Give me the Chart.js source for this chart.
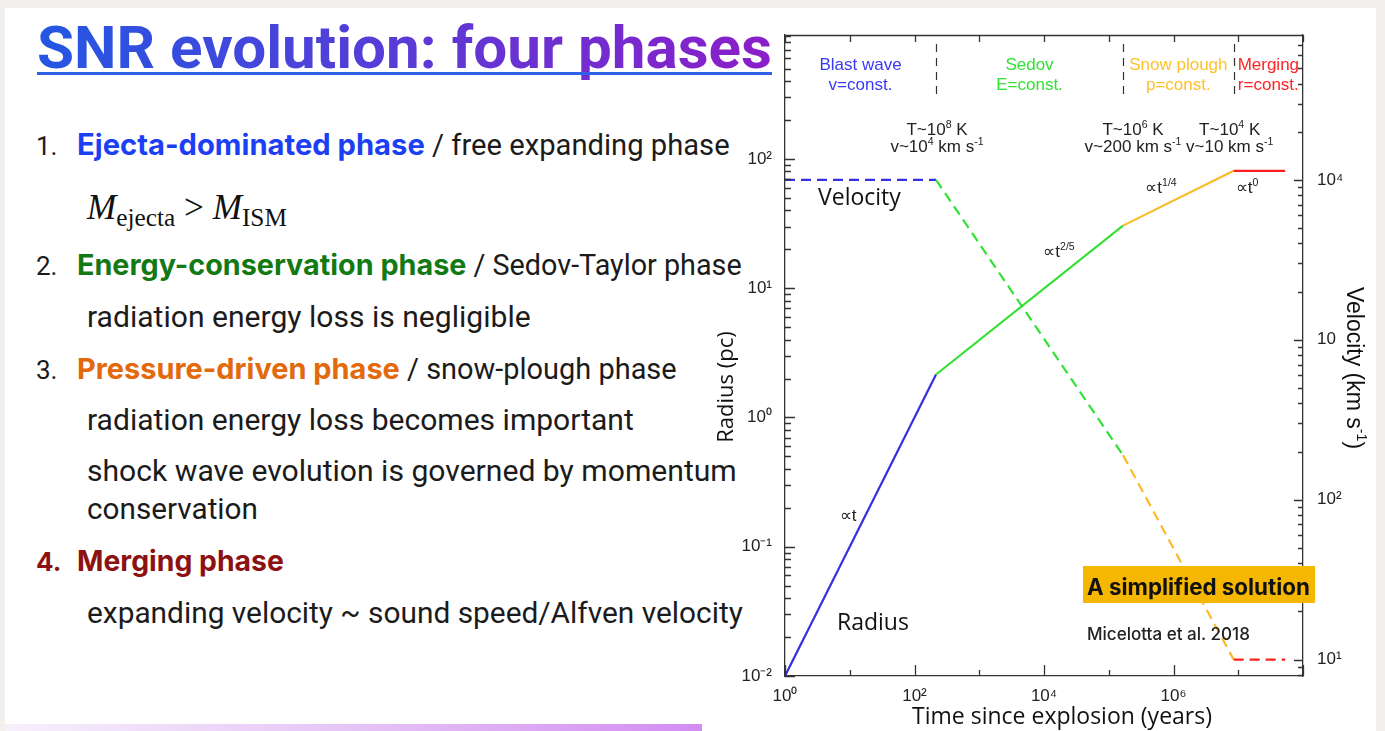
<!DOCTYPE html>
<html>
<head>
<meta charset="utf-8">
<script src="https://cdn.jsdelivr.net/npm/chart.js@4.4.1/dist/chart.umd.min.js"></script>
<style>
  html, body { margin: 0; padding: 0; }
  body { width: 1385px; height: 731px; background: #f1f0ed; position: relative; overflow: hidden; font-family: Roboto, sans-serif; }
  #slide { position: absolute; left: 5px; top: 8px; width: 1371px; height: 723px; background: #fff; }
  .t { position: absolute; left: 0; top: 0; white-space: nowrap; line-height: 1; }
  .bl { display: inline-block; width: 0; height: 0; }
  #title { font: 700 60px Roboto, sans-serif; transform-origin: 0 0;
           background: linear-gradient(90deg, #2357e2 0%, #5a3bd6 50%, #8b1ec8 100%);
           -webkit-background-clip: text; background-clip: text; color: transparent; }
  #uline { position: absolute; left: 37px; top: 72px; width: 735px; height: 3px; background: #2f62e6; }
  .row { font: 400 26px Roboto, sans-serif; color: #1b1b1b; }
  .b { font-family: Inter, sans-serif; font-weight: 700; }
  .math { font: 400 28px "Liberation Serif", serif; color: #111; }
  .math i { font-style: italic; }
  .math sub { font-size: 0.72em; vertical-align: -0.28em; line-height: 0; }
  #chart { position: absolute; left: 700px; top: 0; }
  #note { position: absolute; left: 1083px; top: 566px; width: 232px; height: 37px; background: #f6b700; }
  .over { z-index: 3; }
  #bar { position: absolute; left: 5px; top: 724px; width: 697px; height: 7px;
         background: linear-gradient(90deg, #f7f0fc 0%, #e6c4f6 50%, #d38cf2 100%); }
</style>
</head>
<body>
<div id="slide"></div>

<div id="title" class="t" data-x="37" data-b="68" data-w="735" data-mode="sx">SNR evolution: four phases<i class="bl"></i></div>
<div id="uline"></div>

<div class="t row" data-x="36" data-b="155">1.<i class="bl"></i></div>
<div class="t row" data-x="77" data-b="155" data-w="653"><span class="b" style="color:#1d3ff4">Ejecta-dominated phase</span> / free expanding phase<i class="bl"></i></div>
<div class="t math" data-x="87" data-b="219" data-w="200"><i>M</i><sub>ejecta</sub> &gt; <i>M</i><sub>ISM</sub><i class="bl"></i></div>

<div class="t row" data-x="36" data-b="275">2.<i class="bl"></i></div>
<div class="t row" data-x="77" data-b="275" data-w="665"><span class="b" style="color:#137a13">Energy-conservation phase</span> / Sedov-Taylor phase<i class="bl"></i></div>
<div class="t row" data-x="87" data-b="327" data-w="444">radiation energy loss is negligible<i class="bl"></i></div>

<div class="t row" data-x="36" data-b="379">3.<i class="bl"></i></div>
<div class="t row" data-x="77" data-b="379" data-w="600"><span class="b" style="color:#e2690c">Pressure-driven phase</span> / snow-plough phase<i class="bl"></i></div>
<div class="t row" data-x="87" data-b="430" data-w="547">radiation energy loss becomes important<i class="bl"></i></div>
<div class="t row" data-x="87" data-b="481" data-w="650">shock wave evolution is governed by momentum<i class="bl"></i></div>
<div class="t row" data-x="87" data-b="519" data-w="171">conservation<i class="bl"></i></div>

<div class="t row" data-x="36" data-b="571"><span class="b" style="color:#8c1212">4.</span><i class="bl"></i></div>
<div class="t row" data-x="77" data-b="571" data-w="207"><span class="b" style="color:#8c1212">Merging phase</span><i class="bl"></i></div>
<div class="t row" data-x="87" data-b="623" data-w="656">expanding velocity ~ sound speed/Alfven velocity<i class="bl"></i></div>

<div id="bar"></div>

<canvas id="chart" width="685" height="731"></canvas>

<div id="note" class="over"></div>
<div class="t row over" data-x="1087" data-b="595" data-w="223"><span class="b" style="color:#111">A simplified solution</span><i class="bl"></i></div>
<div class="t over" style="font:500 16px Inter, sans-serif;color:#222" data-x="1087" data-b="640" data-w="163">Micelotta et al. 2018<i class="bl"></i></div>

<script>
// ---- Evolution of a supernova remnant: breakpoints between the four phases ----
const T_YEARS      = [1, 215, 1.66e5, 8.5e6, 5.3e7];   // time since explosion (yr)
const RADIUS_PC    = [0.01, 2.15, 30.5, 81, 81];       // shock radius (pc)
const VELOCITY_KMS = [1e4, 1e4, 190, 10, 10];          // shock velocity (km/s)

const PHASE_NAMES = ['Blast wave', 'Sedov', 'Snow plough', 'Merging'];
const PHASE_LAWS  = ['v=const.', 'E=const.', 'p=const.', 'r=const.'];
const SLOPE_EXP   = ['', '2/5', '1/4', '0'];             // radius ∝ t^n in each phase
const TRANS_TEMP  = ['8', '6', '4'];                      // T ~ 10^n K at each transition
const TRANS_VEL   = [['10', '4'], ['200', ''], ['10', '']];

const X_TICKS = [1, 1e2, 1e4, 1e6];
const X_TICK_LABELS = ['10⁰', '10²', '10⁴', '10⁶'];
const R_TICKS = [0.01, 0.1, 1, 10, 100];
const R_TICK_LABELS = ['10⁻²', '10⁻¹', '10⁰', '10¹', '10²'];
const V_TICKS = [10, 100, 1000, 10000];
const V_TICK_LABELS = ['10¹', '10²', '10', '10⁴'];

const X_RANGE = [1, 1e8];
const R_RANGE = [0.01, 910];
const V_RANGE = [7.9, 80500];

// ---- styling ----
const PHASE_COLORS = ['#3430e0', '#33e033', '#fdb927', '#ff1f1f'];
const TEXT_COLORS  = ['#3a3af5', '#33e033', '#ffc12a', '#ff2424'];
const AX = '#333';
const SANS = '"Liberation Sans", Arial, sans-serif';
const OPEN = '"Open Sans", sans-serif';

// ---- slide text layout: fit widths, then place on baselines ----
document.querySelectorAll('.t').forEach(el => {
  el.style.left = el.dataset.x + 'px';
  if (el.dataset.w) {
    const w = el.getBoundingClientRect().width;
    const target = +el.dataset.w;
    if (el.dataset.mode === 'sx') {
      el.style.transform = 'scaleX(' + (target / w) + ')';
    } else {
      const fs = parseFloat(getComputedStyle(el).fontSize);
      el.style.fontSize = (fs * target / w) + 'px';
    }
  }
});
document.querySelectorAll('.t').forEach(el => {
  const m = el.querySelector('.bl');
  const cur = m.getBoundingClientRect().top;
  el.style.top = (parseFloat(el.style.top || 0) + (+el.dataset.b - cur)) + 'px';
});

// ---- helpers ----
function rich(ctx, parts, x, y, size, family, color, align) {
  const fonts = parts.map(p => (p[1] ? size * 0.62 : size) + 'px ' + family);
  const widths = parts.map((p, i) => { ctx.font = fonts[i]; return ctx.measureText(p[0]).width; });
  const total = widths.reduce((a, b) => a + b, 0);
  let cx = align === 'left' ? x : align === 'right' ? x - total : x - total / 2;
  ctx.fillStyle = color;
  ctx.textBaseline = 'alphabetic';
  ctx.textAlign = 'left';
  parts.forEach((p, i) => {
    ctx.font = fonts[i];
    ctx.fillText(p[0], cx, p[1] ? y - size * 0.42 : y);
    cx += widths[i];
  });
  return total;
}

function logMarks(scale) {
  const out = [];
  const e0 = Math.floor(Math.log10(scale.min)), e1 = Math.ceil(Math.log10(scale.max));
  for (let e = e0; e <= e1; e++) {
    for (let m = 1; m <= 9; m++) {
      const v = m * Math.pow(10, e);
      if (v >= scale.min * 0.999 && v <= scale.max) out.push([v, m === 1]);
    }
  }
  return out;
}

// frame and tick marks (all pointing into the plot)
const framePlugin = {
  id: 'frame',
  afterDatasetsDraw(chart) {
    const { ctx, chartArea: a, scales: { x, y, y2 } } = chart;
    ctx.save();
    ctx.strokeStyle = AX;
    ctx.lineWidth = 1.3;
    ctx.beginPath();
    ctx.moveTo(a.left, a.top + 0.5); ctx.lineTo(a.right, a.top + 0.5);
    for (let e = 0; e <= 8; e++) {
      const px = Math.round(x.getPixelForValue(Math.pow(10, e))) + 0.5;
      const len = e % 2 === 0 ? 11 : 6;
      ctx.moveTo(px, a.bottom); ctx.lineTo(px, a.bottom - len);
      ctx.moveTo(px, a.top); ctx.lineTo(px, a.top + 7);
    }
    logMarks(y).forEach(([v, major]) => {
      const py = Math.round(y.getPixelForValue(v)) + 0.5;
      ctx.moveTo(a.left, py); ctx.lineTo(a.left + (major ? 10 : 6), py);
    });
    logMarks(y2).forEach(([v, major]) => {
      const py = Math.round(y2.getPixelForValue(v)) + 0.5;
      ctx.moveTo(a.right, py); ctx.lineTo(a.right - (major ? 9 : 5), py);
    });
    ctx.stroke();
    ctx.restore();
  }
};

// phase header, transition conditions, power-law labels and axis titles
const labelPlugin = {
  id: 'labels',
  afterDraw(chart) {
    const { ctx, chartArea: a, scales: { x } } = chart;
    ctx.save();
    const bx = [a.left].concat(T_YEARS.slice(1, 4).map(t => x.getPixelForValue(t)), [a.right]);

    // dashed separators between phases
    ctx.strokeStyle = AX;
    ctx.lineWidth = 1.2;
    ctx.setLineDash([8, 6]);
    ctx.beginPath();
    for (let i = 1; i <= 3; i++) {
      const px = Math.round(bx[i]) + 0.5;
      ctx.moveTo(px, a.top + 9); ctx.lineTo(px, a.top + 62);
    }
    ctx.stroke();
    ctx.setLineDash([]);

    // phase names and conserved quantity
    ctx.textAlign = 'center';
    ctx.textBaseline = 'alphabetic';
    ctx.font = '17px ' + SANS;
    PHASE_NAMES.forEach((n, i) => {
      const cx = (bx[i] + bx[i + 1]) / 2;
      ctx.fillStyle = TEXT_COLORS[i];
      ctx.fillText(n, cx, a.top + 35);
      ctx.fillText(PHASE_LAWS[i], cx, a.top + 55);
    });

    // temperature / velocity at each transition
    const shift = [1, 10, -4];
    TRANS_TEMP.forEach((tp, i) => {
      const cx = bx[i + 1] + shift[i];
      rich(ctx, [['T~10', 0], [tp, 1], [' K', 0]], cx, a.top + 100, 17, SANS, '#222', 'center');
      const v = TRANS_VEL[i];
      const parts = [['v~' + v[0], 0]];
      if (v[1]) parts.push([v[1], 1]);
      parts.push([' km s', 0], ['-1', 1]);
      rich(ctx, parts, cx, a.top + 117, 17, SANS, '#222', 'center');
    });

    // power-law slopes of the radius
    const slopePos = [[a.left + 63, a.top + 486], [a.left + 274, a.top + 222], [a.left + 376, a.top + 158], [a.left + 462, a.top + 158]];
    SLOPE_EXP.forEach((ex, i) => {
      const parts = [['∝', 0], ['t', 0]];
      if (ex) parts.push([ex, 1]);
      rich(ctx, parts, slopePos[i][0], slopePos[i][1], 17, SANS, '#222', 'center');
    });

    // curve names
    ctx.fillStyle = '#111';
    ctx.textAlign = 'left';
    ctx.font = '23px ' + OPEN;
    ctx.fillText('Velocity', a.left + 33, a.top + 170);
    ctx.fillText('Radius', a.left + 52, a.top + 595);

    // axis titles
    ctx.textAlign = 'center';
    ctx.font = '23px ' + OPEN;
    ctx.fillText('Time since explosion (years)', a.left + 277, a.bottom + 48);

    ctx.save();
    ctx.translate(a.left - 52, a.top + 352);
    ctx.rotate(-Math.PI / 2);
    ctx.font = '22px ' + OPEN;
    ctx.fillText('Radius (pc)', 0, 0);
    ctx.restore();

    ctx.save();
    ctx.translate(a.right + 44, a.top + 333);
    ctx.rotate(Math.PI / 2);
    rich(ctx, [['Velocity (km s', 0], ['-1', 1], [')', 0]], 0, 0, 23, SANS, '#111', 'center');
    ctx.restore();

    ctx.restore();
  }
};

const tickFont = { family: SANS, size: 17 };

new Chart(document.getElementById('chart'), {
  type: 'line',
  data: {
    datasets: [
      {
        label: 'Radius',
        data: T_YEARS.map((t, i) => ({ x: t, y: RADIUS_PC[i] })),
        yAxisID: 'y',
        borderColor: PHASE_COLORS[0],
        borderWidth: 2.2,
        pointRadius: 0,
        segment: { borderColor: c => PHASE_COLORS[c.p0DataIndex] }
      },
      {
        label: 'Velocity',
        data: T_YEARS.map((t, i) => ({ x: t, y: VELOCITY_KMS[i] })),
        yAxisID: 'y2',
        borderColor: PHASE_COLORS[0],
        borderWidth: 2.2,
        borderDash: [10, 6],
        pointRadius: 0,
        segment: { borderColor: c => PHASE_COLORS[c.p0DataIndex] }
      }
    ]
  },
  options: {
    responsive: false,
    animation: false,
    devicePixelRatio: 1,
    layout: { padding: { top: 35, left: 0, right: 0, bottom: 0 } },
    plugins: { legend: { display: false }, tooltip: { enabled: false } },
    scales: {
      x: {
        type: 'logarithmic', position: 'bottom', bounds: 'data',
        min: X_RANGE[0], max: X_RANGE[1],
        afterBuildTicks: s => { s.ticks = X_TICKS.map(v => ({ value: v })); },
        afterFit: s => { s.height = 55; },
        grid: { display: false },
        border: { display: true, color: AX, width: 1.3 },
        ticks: { autoSkip: false, maxRotation: 0, padding: 2, color: '#222', font: tickFont,
                 callback: (v, i) => X_TICK_LABELS[i] }
      },
      y: {
        type: 'logarithmic', position: 'left', bounds: 'data',
        min: R_RANGE[0], max: R_RANGE[1],
        afterBuildTicks: s => { s.ticks = R_TICKS.map(v => ({ value: v })); },
        afterFit: s => { s.width = 85; },
        grid: { display: false },
        border: { display: true, color: AX, width: 1.3 },
        ticks: { autoSkip: false, padding: 5, color: '#222', font: tickFont,
                 callback: (v, i) => R_TICK_LABELS[i] }
      },
      y2: {
        type: 'logarithmic', position: 'right', bounds: 'data',
        min: V_RANGE[0], max: V_RANGE[1],
        afterBuildTicks: s => { s.ticks = V_TICKS.map(v => ({ value: v })); },
        afterFit: s => { s.width = 82; },
        grid: { display: false },
        border: { display: true, color: AX, width: 1.3 },
        ticks: { autoSkip: false, padding: 6, color: '#222', font: tickFont,
                 callback: (v, i) => V_TICK_LABELS[i] }
      }
    }
  },
  plugins: [framePlugin, labelPlugin]
});
</script>
</body>
</html>
